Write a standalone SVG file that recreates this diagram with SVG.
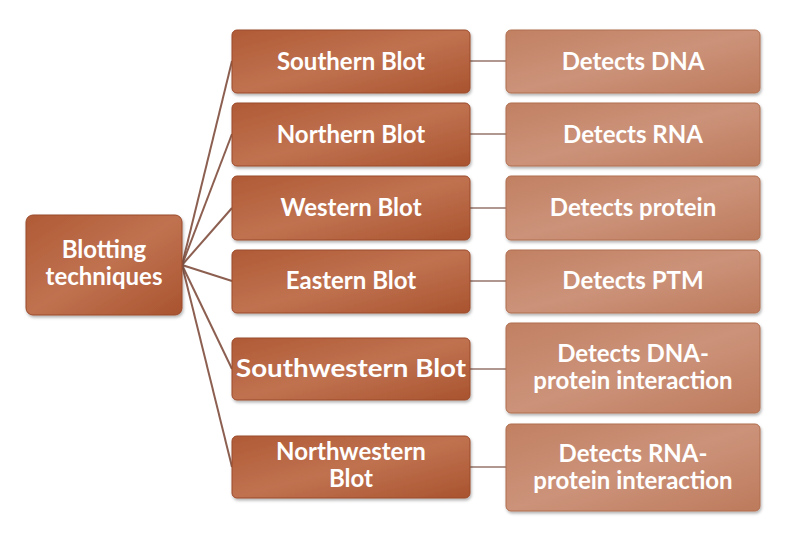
<svg xmlns="http://www.w3.org/2000/svg" width="789" height="540" viewBox="0 0 789 540">
<defs>
<linearGradient id="gm" x1="0" y1="0" x2="1" y2="1"><stop offset="0" stop-color="#b05a36"/><stop offset="0.5" stop-color="#c07250"/><stop offset="1" stop-color="#a9532f"/></linearGradient>
<linearGradient id="gr" x1="0" y1="0" x2="1" y2="1"><stop offset="0" stop-color="#c18062"/><stop offset="0.5" stop-color="#cc937a"/><stop offset="1" stop-color="#bd7a5c"/></linearGradient>
<filter id="sh" x="-10%" y="-10%" width="120%" height="130%"><feDropShadow dx="1" dy="2" stdDeviation="1.5" flood-color="#000" flood-opacity="0.3"/></filter>
</defs>
<style>
.m{fill:url(#gm);stroke:#9a4a2a;stroke-width:1;filter:url(#sh)}
.r{fill:url(#gr);stroke:#b06e50;stroke-width:1;filter:url(#sh)}
text{font-family:Lato,"Open Sans",sans-serif;font-weight:bold;font-size:24px;fill:#fff;text-anchor:middle}
.c line{stroke:#8c5f50;stroke-width:2}
.c2 line{stroke:#b09890;stroke-width:2}
</style>
<g class="c">
<line x1="182" y1="265" x2="232" y2="61"/>
<line x1="182" y1="265" x2="232" y2="134"/>
<line x1="182" y1="265" x2="232" y2="208"/>
<line x1="182" y1="265" x2="232" y2="281"/>
<line x1="182" y1="265" x2="232" y2="369"/>
<line x1="182" y1="265" x2="232" y2="467"/>
</g>
<g class="c2">
<line x1="470" y1="61" x2="506" y2="61"/>
<line x1="470" y1="134" x2="506" y2="134"/>
<line x1="470" y1="208" x2="506" y2="208"/>
<line x1="470" y1="281" x2="506" y2="281"/>
<line x1="470" y1="369" x2="506" y2="369"/>
<line x1="470" y1="467" x2="506" y2="467"/>
</g>
<g id="root"><rect class="m" x="26" y="215" width="156" height="100" rx="7"/><text x="104" y="258">Blotting</text><text x="104" y="285">techniques</text></g>
<g id="southern"><rect class="m" x="232" y="30" width="238" height="63" rx="5"/><text x="351" y="70">Southern Blot</text></g>
<g id="northern"><rect class="m" x="232" y="103" width="238" height="63" rx="5"/><text x="351" y="143">Northern Blot</text></g>
<g id="western"><rect class="m" x="232" y="176" width="238" height="64" rx="5"/><text x="351" y="216">Western Blot</text></g>
<g id="eastern"><rect class="m" x="232" y="250" width="238" height="63" rx="5"/><text x="351" y="289">Eastern Blot</text></g>
<g id="southwestern"><rect class="m" x="232" y="338" width="238" height="62" rx="5"/><text x="351" y="377" textLength="230" lengthAdjust="spacingAndGlyphs">Southwestern Blot</text></g>
<g id="northwestern"><rect class="m" x="232" y="436" width="238" height="62" rx="5"/><text x="351" y="460">Northwestern</text><text x="351" y="487">Blot</text></g>
<g id="dna"><rect class="r" x="506" y="30" width="254" height="63" rx="5"/><text x="633" y="70">Detects DNA</text></g>
<g id="rna"><rect class="r" x="506" y="103" width="254" height="63" rx="5"/><text x="633" y="143">Detects RNA</text></g>
<g id="protein"><rect class="r" x="506" y="176" width="254" height="64" rx="5"/><text x="633" y="216">Detects protein</text></g>
<g id="ptm"><rect class="r" x="506" y="250" width="254" height="63" rx="5"/><text x="633" y="289">Detects PTM</text></g>
<g id="dnaprot"><rect class="r" x="506" y="323" width="254" height="90" rx="5"/><text x="633" y="362">Detects DNA-</text><text x="633" y="389">protein interaction</text></g>
<g id="rnaprot"><rect class="r" x="506" y="424" width="254" height="87" rx="5"/><text x="633" y="462">Detects RNA-</text><text x="633" y="489">protein interaction</text></g>
</svg>
